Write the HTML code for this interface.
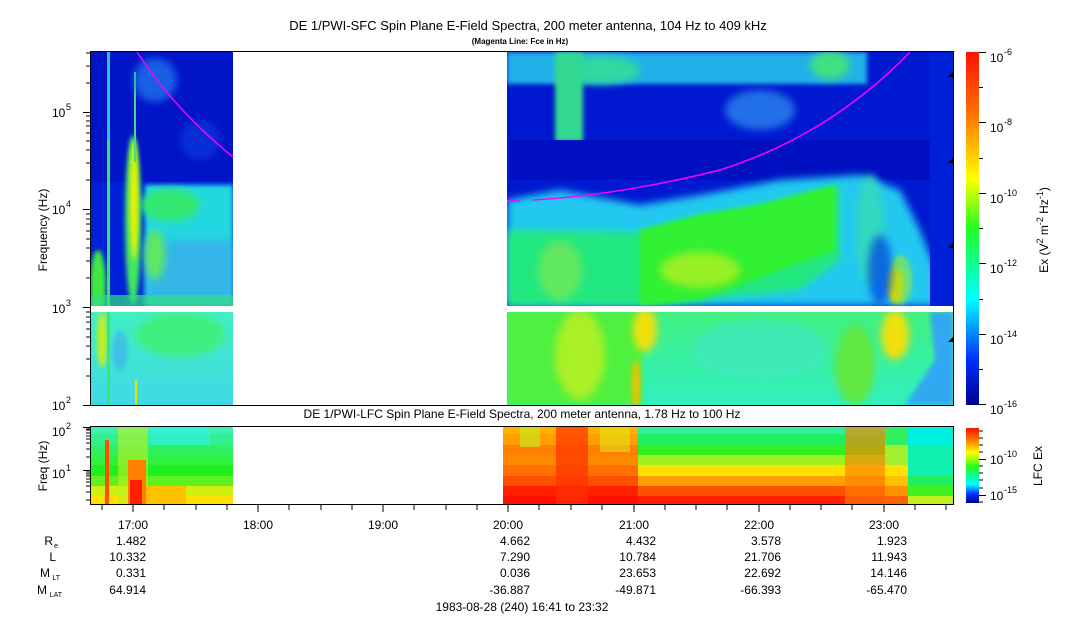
<!DOCTYPE html>
<html><head><meta charset="utf-8"><style>
body{margin:0;background:#fff;}
svg{display:block;font-family:"Liberation Sans",sans-serif;}
</style></head><body>
<svg width="1083" height="620" viewBox="0 0 1083 620" xmlns="http://www.w3.org/2000/svg">
<defs>
<filter id="b4" x="-50%" y="-50%" width="200%" height="200%"><feGaussianBlur stdDeviation="4"/></filter>
<filter id="b2" x="-50%" y="-50%" width="200%" height="200%"><feGaussianBlur stdDeviation="2"/></filter>
<linearGradient id="cb" x1="0" y1="0" x2="0" y2="1">
<stop offset="0" stop-color="#ff1000"/><stop offset="0.17" stop-color="#ff7000"/><stop offset="0.36" stop-color="#ffff00"/><stop offset="0.5" stop-color="#20ff20"/><stop offset="0.7" stop-color="#00ffff"/><stop offset="0.87" stop-color="#0030ff"/><stop offset="1" stop-color="#000090"/>
</linearGradient>
<linearGradient id="cb2" x1="0" y1="0" x2="0" y2="1">
<stop offset="0" stop-color="#ff1000"/><stop offset="0.15" stop-color="#ff7000"/><stop offset="0.33" stop-color="#ffff00"/><stop offset="0.52" stop-color="#20ff20"/><stop offset="0.75" stop-color="#00ffff"/><stop offset="0.88" stop-color="#0030ff"/><stop offset="1" stop-color="#000090"/>
</linearGradient>
<linearGradient id="lowL" x1="0" y1="0" x2="0" y2="1">
<stop offset="0" stop-color="#40f0c0"/><stop offset="1" stop-color="#40d8e8"/>
</linearGradient>
<linearGradient id="lowR" x1="0" y1="0" x2="0" y2="1">
<stop offset="0" stop-color="#40f080"/><stop offset="1" stop-color="#30f0c0"/>
</linearGradient>
<clipPath id="cL"><rect x="91" y="52" width="142" height="254"/></clipPath>
<clipPath id="cL2"><rect x="91" y="312" width="142" height="93"/></clipPath>
<clipPath id="cR"><rect x="507" y="52" width="446" height="254"/></clipPath>
<clipPath id="cR2"><rect x="507" y="312" width="446" height="93"/></clipPath>
<clipPath id="cT"><rect x="70" y="51" width="30" height="360"/></clipPath>
</defs>

<text x="528" y="30" font-size="13" text-anchor="middle">DE 1/PWI-SFC  Spin Plane E-Field Spectra, 200 meter antenna, 104 Hz to 409 kHz</text>
<text x="520" y="44" font-size="8" font-weight="bold" text-anchor="middle">(Magenta Line: Fce in Hz)</text>
<text x="522" y="418" font-size="12" text-anchor="middle">DE 1/PWI-LFC  Spin Plane E-Field Spectra, 200 meter antenna, 1.78 Hz to 100 Hz</text>

<g clip-path="url(#cL)">
<rect x="91" y="52" width="142" height="254" fill="#0020d8"/>
<rect x="91" y="52" width="142" height="130" fill="#0014c8"/>
<rect x="145" y="185" width="88" height="121" fill="#20d8e0" filter="url(#b2)"/>
<rect x="145" y="240" width="88" height="66" fill="#40a0f0" opacity="0.6" filter="url(#b4)"/>
<ellipse cx="170" cy="205" rx="30" ry="16" fill="#30e870" filter="url(#b4)"/>
<ellipse cx="155" cy="255" rx="10" ry="25" fill="#60e860" filter="url(#b4)"/>
<rect x="107" y="52" width="3" height="254" fill="#20c8e0"/>
<rect x="107" y="140" width="3" height="166" fill="#30e860"/>
<ellipse cx="133" cy="220" rx="8" ry="85" fill="#40e860" filter="url(#b2)"/>
<ellipse cx="134" cy="200" rx="4" ry="60" fill="#f0f000" filter="url(#b2)"/>
<rect x="134" y="72" width="2" height="90" fill="#40e080"/>
<ellipse cx="98" cy="285" rx="8" ry="35" fill="#40e840" filter="url(#b2)"/>
<ellipse cx="155" cy="80" rx="22" ry="22" fill="#2080f0" opacity="0.7" filter="url(#b4)"/>
<ellipse cx="200" cy="140" rx="20" ry="20" fill="#1040e0" opacity="0.6" filter="url(#b4)"/>
<rect x="91" y="295" width="142" height="11" fill="#30e080" opacity="0.7"/>
</g>
<g clip-path="url(#cL2)">
<rect x="91" y="312" width="142" height="93" fill="url(#lowL)"/>
<ellipse cx="180" cy="335" rx="45" ry="22" fill="#40f060" opacity="0.7" filter="url(#b4)"/>
<ellipse cx="102" cy="340" rx="5" ry="28" fill="#c0f020" filter="url(#b2)"/>
<rect x="107" y="312" width="3" height="93" fill="#40e860"/>
<ellipse cx="120" cy="350" rx="8" ry="20" fill="#40a8f0" opacity="0.6" filter="url(#b2)"/>
<rect x="135" y="380" width="2" height="25" fill="#f0e000"/>
</g>

<g clip-path="url(#cR)">
<rect x="507" y="52" width="446" height="254" fill="#0018d0"/>
<rect x="507" y="52" width="360" height="32" fill="#20b0e8" filter="url(#b2)"/>
<ellipse cx="600" cy="70" rx="40" ry="14" fill="#30d8a0" filter="url(#b4)"/>
<ellipse cx="830" cy="65" rx="20" ry="14" fill="#40e080" filter="url(#b4)"/>
<ellipse cx="760" cy="110" rx="35" ry="20" fill="#2070e8" filter="url(#b4)"/>
<rect x="555" y="52" width="28" height="90" fill="#30d890" filter="url(#b2)"/>
<rect x="510" y="140" width="443" height="40" fill="#0010c0"/>
<polygon points="507,200 560,190 640,205 700,195 780,180 860,175 900,190 920,230 940,280 953,290 953,306 507,306" fill="#20c8f0" filter="url(#b4)"/>
<polygon points="507,230 640,232 700,215 760,205 800,195 840,185 840,260 800,290 640,306 507,306" fill="#20e880" filter="url(#b4)"/>
<polygon points="640,230 700,215 760,205 835,185 835,250 780,270 700,300 640,306" fill="#30f030" filter="url(#b2)"/>
<ellipse cx="700" cy="270" rx="40" ry="18" fill="#b0f020" opacity="0.8" filter="url(#b4)"/>
<ellipse cx="560" cy="270" rx="22" ry="30" fill="#60e860" filter="url(#b4)"/>
<ellipse cx="870" cy="230" rx="14" ry="55" fill="#30d8c0" filter="url(#b4)"/>
<ellipse cx="895" cy="285" rx="8" ry="18" fill="#f0c000" filter="url(#b2)"/>
<ellipse cx="900" cy="280" rx="12" ry="25" fill="#a0f020" opacity="0.6" filter="url(#b2)"/>
<ellipse cx="880" cy="270" rx="12" ry="35" fill="#0040e0" opacity="0.7" filter="url(#b4)"/>
<rect x="930" y="52" width="23" height="254" fill="#0020d8"/>
</g>
<g clip-path="url(#cR2)">
<rect x="507" y="312" width="446" height="93" fill="url(#lowR)"/>
<rect x="507" y="312" width="135" height="93" fill="#50f040" filter="url(#b2)"/>
<ellipse cx="580" cy="355" rx="25" ry="45" fill="#c0f020" opacity="0.8" filter="url(#b4)"/>
<ellipse cx="645" cy="330" rx="12" ry="22" fill="#f0e010" filter="url(#b4)"/>
<ellipse cx="636" cy="385" rx="4" ry="25" fill="#f0c000" filter="url(#b2)"/>
<ellipse cx="760" cy="350" rx="70" ry="30" fill="#40e8c0" opacity="0.7" filter="url(#b4)"/>
<ellipse cx="855" cy="365" rx="20" ry="40" fill="#60e840" filter="url(#b4)"/>
<ellipse cx="895" cy="335" rx="14" ry="25" fill="#f0e010" filter="url(#b4)"/>
<polygon points="930,312 953,312 953,405 905,405 935,360" fill="#30a8f0" filter="url(#b2)"/>
</g>

<path d="M137,52 Q175,110 233,157" fill="none" stroke="#ff00ff" stroke-width="1.5"/>
<path d="M507,201 L520,201 M533,200 Q620,195 720,170 Q830,135 910,52" fill="none" stroke="#ff00ff" stroke-width="1.5"/>

<g fill="#000">
<polygon points="953,72 948,77 953,77"/><polygon points="953,158 948,163 953,163"/><polygon points="953,243 948,248 953,248"/><polygon points="953,337 948,342 953,342"/>
</g>

<g>
<rect x="91" y="427" width="142" height="7" fill="#40f0b0"/>
<rect x="91" y="434" width="142" height="11" fill="#30f090"/>
<rect x="91" y="445" width="142" height="10" fill="#30f060"/>
<rect x="91" y="455" width="142" height="10" fill="#30f040"/>
<rect x="91" y="465" width="142" height="11" fill="#20f020"/>
<rect x="91" y="476" width="142" height="10" fill="#60f020"/>
<rect x="91" y="486" width="142" height="10" fill="#d0f010"/>
<rect x="91" y="496" width="142" height="8" fill="#ffe000"/>
<rect x="150" y="427" width="60" height="18" fill="#30f0e0" opacity="0.7"/>
<rect x="118" y="427" width="30" height="77" fill="#c0f020" opacity="0.6"/>
<rect x="128" y="460" width="18" height="44" fill="#ff8000"/>
<rect x="130" y="480" width="12" height="24" fill="#ff2000"/>
<rect x="105" y="440" width="4" height="64" fill="#ff5000"/>
<rect x="146" y="486" width="40" height="18" fill="#ffc000"/>
<rect x="503" y="427" width="135" height="7" fill="#ffb000"/>
<rect x="503" y="434" width="135" height="11" fill="#ffa000"/>
<rect x="503" y="445" width="135" height="10" fill="#ff8000"/>
<rect x="503" y="455" width="135" height="10" fill="#ff8a00"/>
<rect x="503" y="465" width="135" height="11" fill="#ff7000"/>
<rect x="503" y="476" width="135" height="10" fill="#ff5000"/>
<rect x="503" y="486" width="135" height="10" fill="#ff2000"/>
<rect x="503" y="496" width="135" height="8" fill="#ff1000"/>
<rect x="556" y="427" width="32" height="77" fill="#ff3000" opacity="0.7"/>
<rect x="520" y="427" width="20" height="20" fill="#c0f020" opacity="0.6"/>
<rect x="600" y="427" width="30" height="25" fill="#e0f020" opacity="0.5"/>
<rect x="638" y="427" width="247" height="7" fill="#30f0a0"/>
<rect x="638" y="434" width="247" height="11" fill="#20f060"/>
<rect x="638" y="445" width="247" height="10" fill="#30f020"/>
<rect x="638" y="455" width="247" height="10" fill="#a0f020"/>
<rect x="638" y="465" width="247" height="11" fill="#ffe000"/>
<rect x="638" y="476" width="247" height="10" fill="#ffa000"/>
<rect x="638" y="486" width="247" height="10" fill="#ff5000"/>
<rect x="638" y="496" width="247" height="8" fill="#ff2000"/>
<rect x="845" y="427" width="40" height="77" fill="#ff8000" opacity="0.65"/>
<rect x="885" y="427" width="23" height="18" fill="#30f060"/>
<rect x="885" y="445" width="23" height="20" fill="#a0f030"/>
<rect x="885" y="465" width="23" height="11" fill="#ffe000"/>
<rect x="885" y="476" width="23" height="10" fill="#ffc000"/>
<rect x="885" y="486" width="23" height="10" fill="#ff9000"/>
<rect x="885" y="496" width="23" height="8" fill="#ff6000"/>
<rect x="908" y="427" width="45" height="18" fill="#00f0e0"/>
<rect x="908" y="445" width="45" height="31" fill="#10f0b0"/>
<rect x="908" y="476" width="45" height="10" fill="#20f060"/>
<rect x="908" y="486" width="45" height="10" fill="#40f020"/>
<rect x="908" y="496" width="45" height="8" fill="#c0f020"/>
</g>

<rect x="90.5" y="51.5" width="863" height="354" fill="none" stroke="#000"/>
<rect x="90.5" y="426.5" width="863" height="78" fill="none" stroke="#000"/>
<line x1="91" y1="309" x2="953" y2="309" stroke="#fff" stroke-width="6"/>
<line x1="90.5" y1="306" x2="90.5" y2="312" stroke="#000"/>

<g stroke="#000" stroke-width="1" clip-path="url(#cT)">
<path d="M83,405.5H90 M83,307.5H90 M83,209.5H90 M83,112.5H90"/>
<path id="mt" d="M86,376H90 M86,359H90 M86,346H90 M86,337H90 M86,329H90 M86,322H90 M86,317H90 M86,312H90"/>
<use href="#mt" y="-98"/><use href="#mt" y="-196"/><use href="#mt" y="-293"/>
</g>
<g font-size="12">
<text x="52" y="410">10</text><text x="66" y="403" font-size="9">2</text>
<text x="52" y="313">10</text><text x="66" y="306" font-size="9">3</text>
<text x="52" y="214">10</text><text x="66" y="207" font-size="9">4</text>
<text x="52" y="117">10</text><text x="66" y="110" font-size="9">5</text>
</g>
<text transform="translate(47,230) rotate(-90)" font-size="12" text-anchor="middle">Frequency (Hz)</text>

<g stroke="#000">
<path d="M83,427.5H90 M83,470.5H90"/>
<path d="M86,457H90 M86,449H90 M86,443H90 M86,439H90 M86,436H90 M86,433H90 M86,430H90 M86,429H90 M86,500H90 M86,492H90 M86,486H90 M86,482H90 M86,479H90 M86,476H90 M86,474H90 M86,472H90"/>
</g>
<g font-size="12">
<text x="52" y="436">10</text><text x="66" y="429" font-size="9">2</text>
<text x="52" y="478">10</text><text x="66" y="471" font-size="9">1</text>
</g>
<text transform="translate(47,466) rotate(-90)" font-size="12" text-anchor="middle">Freq (Hz)</text>

<g stroke="#000">
<path d="M102,505V510 M133,505V512 M164,505V510 M196,505V510 M227,505V510 M258,505V512 M289,505V510 M321,505V510 M352,505V510 M383,505V512 M414,505V510 M446,505V510 M477,505V510 M508,505V512 M539,505V510 M571,505V510 M602,505V510 M634,505V512 M665,505V510 M696,505V510 M727,505V510 M759,505V512 M790,505V510 M821,505V510 M852,505V510 M884,505V512 M915,505V510 M946,505V510"/>
</g>
<g font-size="12" text-anchor="middle">
<text x="133" y="529">17:00</text><text x="258" y="529">18:00</text><text x="383" y="529">19:00</text><text x="508" y="529">20:00</text><text x="634" y="529">21:00</text><text x="759" y="529">22:00</text><text x="884" y="529">23:00</text>
</g>
<g font-size="12" text-anchor="end">
<text x="53" y="545">R</text><text x="58" y="548" font-size="7" text-anchor="end">e</text>
<text x="56" y="561">L</text>
<text x="50" y="577">M</text><text x="60" y="580" font-size="7">LT</text>
<text x="47" y="594">M</text><text x="62" y="597" font-size="7">LAT</text>
</g>
<g font-size="12" text-anchor="end">
<text x="146" y="545">1.482</text><text x="146" y="561">10.332</text><text x="146" y="577">0.331</text><text x="146" y="594">64.914</text>
<text x="530" y="545">4.662</text><text x="530" y="561">7.290</text><text x="530" y="577">0.036</text><text x="530" y="594">-36.887</text>
<text x="656" y="545">4.432</text><text x="656" y="561">10.784</text><text x="656" y="577">23.653</text><text x="656" y="594">-49.871</text>
<text x="781" y="545">3.578</text><text x="781" y="561">21.706</text><text x="781" y="577">22.692</text><text x="781" y="594">-66.393</text>
<text x="907" y="545">1.923</text><text x="907" y="561">11.943</text><text x="907" y="577">14.146</text><text x="907" y="594">-65.470</text>
</g>
<text x="522" y="611" font-size="12" text-anchor="middle">1983-08-28 (240) 16:41 to 23:32</text>

<rect x="966" y="52" width="13" height="353" fill="url(#cb)"/>
<rect x="966" y="428" width="13" height="75" fill="url(#cb2)"/>
<g stroke="#000">
<path d="M979,52.5H986 M979,122.5H986 M979,193.5H986 M979,263.5H986 M979,334.5H986 M979,404.5H986 M979,87.5H983 M979,158.5H983 M979,228.5H983 M979,299.5H983 M979,369.5H983"/>
<path d="M979,459.5H986 M979,495.5H986 M979,431H983 M979,438H983 M979,445H983 M979,452H983 M979,466H983 M979,473H983 M979,480H983 M979,488H983 M979,502H983"/>
</g>
<g font-size="12">
<text x="990" y="62">10</text><text x="1004" y="55" font-size="9">-6</text>
<text x="990" y="132">10</text><text x="1004" y="125" font-size="9">-8</text>
<text x="990" y="203">10</text><text x="1004" y="196" font-size="9">-10</text>
<text x="990" y="273">10</text><text x="1004" y="266" font-size="9">-12</text>
<text x="990" y="344">10</text><text x="1004" y="337" font-size="9">-14</text>
<text x="990" y="414">10</text><text x="1004" y="407" font-size="9">-16</text>
<text x="990" y="464">10</text><text x="1004" y="457" font-size="9">-10</text>
<text x="990" y="500">10</text><text x="1004" y="493" font-size="9">-15</text>
</g>
<text transform="translate(1048,230) rotate(-90)" font-size="12" text-anchor="middle">Ex (V<tspan font-size="9" dy="-5">2</tspan><tspan dy="5"> m</tspan><tspan font-size="9" dy="-5">-2</tspan><tspan dy="5"> Hz</tspan><tspan font-size="9" dy="-5">-1</tspan><tspan dy="5">)</tspan></text>
<text transform="translate(1042,466) rotate(-90)" font-size="12" text-anchor="middle">LFC Ex</text>
</svg>
</body></html>
